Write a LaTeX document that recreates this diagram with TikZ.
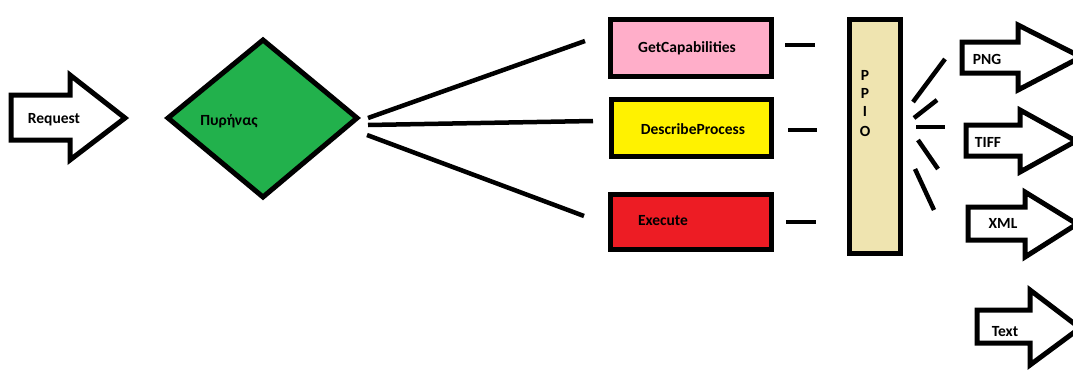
\documentclass[tikz,border=0pt]{standalone}
\usepackage{fontspec}
\setmainfont{Carlito}
\definecolor{kgreen}{HTML}{22B14C}
\definecolor{kpink}{HTML}{FFAEC9}
\definecolor{kyellow}{HTML}{FFF200}
\definecolor{kred}{HTML}{ED1C24}
\definecolor{ktan}{HTML}{EFE4B0}
\begin{document}
\begin{tikzpicture}[x=1pt,y=-1pt,
  shp/.style={draw=black,line width=5pt,line join=miter},
  boxn/.style={draw=black,line width=5pt,inner sep=0pt},
  ln/.style={draw=black,line width=4.5pt},
  lbl/.style={font=\fontsize{15.5}{17}\selectfont\bfseries,inner sep=0pt}]
\useasboundingbox (0,0) rectangle (1073,372);
\clip (0,0) rectangle (1073,372);

% Request arrow
\draw[shp,fill=white] (11,95) -- (70,95) -- (70,75) -- (125,118) -- (70,160) -- (70,140) -- (11,140) -- cycle;
\node[lbl] (req) at (54,120) {Request};

% kernel diamond
\draw[shp,fill=kgreen] (168,118) -- (263,40) -- (357,118) -- (263,197) -- cycle;
\node[lbl] (kern) at (229,121) {Πυρήνας};

% operation boxes
\node[boxn,fill=kpink,minimum width=161pt,minimum height=57pt] (gc) at (690.5,47.5) {};
\node[lbl] at (687,48) {GetCapabilities};
\node[boxn,fill=kyellow,minimum width=160pt,minimum height=57pt] (dp) at (691,127.5) {};
\node[lbl] at (693,129) {DescribeProcess};
\node[boxn,fill=kred,minimum width=161pt,minimum height=55pt] (ex) at (690.5,221.5) {};
\node[lbl] at (663,221) {Execute};

% PPIO
\node[boxn,fill=ktan,minimum width=51pt,minimum height=234pt] (ppio) at (874.5,136) {};
\node[lbl] at (865,75) {P};
\node[lbl] at (865,93) {P};
\node[lbl] at (865,111) {I};
\node[lbl] at (865,131) {O};

% fan lines from kernel
\coordinate (k1) at (368,118); \coordinate (g1) at (585,41);
\coordinate (k2) at (368,125); \coordinate (d1) at (593,121);
\coordinate (k3) at (367,135); \coordinate (e1) at (584,216);
\draw[ln] (k1) -- (g1);
\draw[ln] (k2) -- (d1);
\draw[ln] (k3) -- (e1);

% short dashes
\coordinate (a1) at (785,45); \coordinate (a2) at (815,45);
\coordinate (b1) at (788,130); \coordinate (b2) at (817,130);
\coordinate (c1) at (786,222); \coordinate (c2) at (816,222);
\draw[ln] (a1) -- (a2);
\draw[ln] (b1) -- (b2);
\draw[ln] (c1) -- (c2);

% lines from PPIO
\coordinate (p1a) at (913,102); \coordinate (p1b) at (945,59);
\coordinate (p2a) at (914,118); \coordinate (p2b) at (937,100);
\coordinate (p3a) at (916,127); \coordinate (p3b) at (945,127);
\coordinate (p4a) at (918,140); \coordinate (p4b) at (938,169);
\coordinate (p5a) at (915,169); \coordinate (p5b) at (934,210);
\draw[ln] (p1a) -- (p1b);
\draw[ln] (p2a) -- (p2b);
\draw[ln] (p3a) -- (p3b);
\draw[ln] (p4a) -- (p4b);
\draw[ln] (p5a) -- (p5b);

% output arrows
\draw[shp,fill=white] (962,42) -- (1018,42) -- (1018,25) -- (1081,57) -- (1018,90) -- (1018,73) -- (962,73) -- cycle;
\node[lbl] (png) at (987,59) {PNG};
\draw[shp,fill=white] (966,125) -- (1020,125) -- (1020,110) -- (1076,141) -- (1020,172) -- (1020,156) -- (966,156) -- cycle;
\node[lbl] (tiff) at (988,142) {TIFF};
\draw[shp,fill=white] (968,207) -- (1025,207) -- (1025,192) -- (1077,224) -- (1025,257) -- (1025,240) -- (968,240) -- cycle;
\node[lbl] (xml) at (1003,223) {XML};
\draw[shp,fill=white] (977,310) -- (1030,310) -- (1030,290) -- (1080,328) -- (1030,365) -- (1030,343) -- (977,343) -- cycle;
\node[lbl] (txt) at (1005,332) {Text};
\end{tikzpicture}
\end{document}
